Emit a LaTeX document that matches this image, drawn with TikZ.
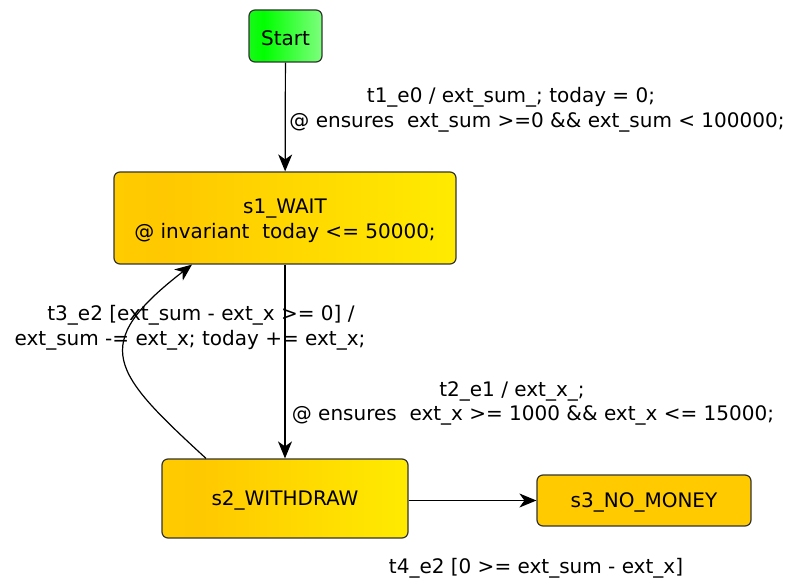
\documentclass[tikz,border=0pt]{standalone}
\usepackage{fontspec}
\setmainfont{DejaVu Sans}
\usetikzlibrary{arrows.meta}
\definecolor{gold1}{HTML}{FFDC00}
\definecolor{gold2}{HTML}{FFC800}
\definecolor{gold3}{HTML}{FFFF00}
\definecolor{green1}{HTML}{55EA55}
\definecolor{green2}{HTML}{00FF00}
\definecolor{green3}{HTML}{CCFFCC}
\definecolor{flat}{HTML}{FFCA00}
\definecolor{edge}{HTML}{333333}
\pgfdeclarehorizontalshading{goldshade}{100bp}{color(0bp)=(gold1); color(32bp)=(gold2); color(100bp)=(gold3)}
\pgfdeclarehorizontalshading{greenshade}{100bp}{color(0bp)=(green1); color(35bp)=(green2); color(100bp)=(green3)}
\newcommand{\lowertext}[2]{\raisebox{-#1}[\height][\depth]{#2}}
\tikzset{
  state/.style={draw=edge, line width=1.2pt, rounded corners=6pt, align=center, inner sep=0pt, font=\fontsize{20}{25}\selectfont},
  goldstate/.style={state, shading=goldshade},
  flatstate/.style={state, fill=flat},
  startstate/.style={state, shading=greenshade},
  lbl/.style={align=center, font=\fontsize{20}{24.5}\selectfont, inner sep=0pt},
  conn/.style={draw=black, line width=1.2pt, -{Stealth[length=17pt,width=14pt,inset=5pt]}}
}
\begin{document}
\begin{tikzpicture}[x=1pt,y=-1pt]
\useasboundingbox (0,0) rectangle (793,580);
\node[startstate, minimum width=73pt, minimum height=52pt] (start) at (285.5,36) {\lowertext{2pt}{Start}};
\node[goldstate, minimum width=342pt, minimum height=92pt] (s1) at (285,218) {\lowertext{3pt}{\begin{tabular}{@{}c@{}}s1\_WAIT\\@ invariant~ today <= 50000;\end{tabular}}};
\node[goldstate, minimum width=246pt, minimum height=79pt] (s2) at (285,498.5) {\lowertext{2pt}{s2\_WITHDRAW}};
\node[flatstate, minimum width=214pt, minimum height=51pt] (s3) at (644,500.5) {\lowertext{2pt}{s3\_NO\_MONEY}};

\draw[conn] (start) -- (s1);
\draw[conn] (s1) -- (s2);
\draw[conn] (s2.east |- s3.west) -- (s3.west);
\draw[conn] ([xshift=-79pt]s2.north) .. controls (112,372) and (88,345) .. ([xshift=-93pt]s1.south);

\node[lbl] (l1) at (537,110) {t1\_e0 / ext\_sum\_; today = 0;\hspace*{52pt}\\@ ensures~ ext\_sum >=0 \&\& ext\_sum < 100000;};
\node[lbl] (l2) at (533,403.5) {t2\_e1 / ext\_x\_;\hspace*{42pt}\\@ ensures~ ext\_x >= 1000 \&\& ext\_x <= 15000;};
\node[lbl] (l3) at (190,328) {\hspace*{22pt}t3\_e2 [ext\_sum - ext\_x >= 0] /\\ext\_sum -= ext\_x; today += ext\_x;};
\node[lbl] (l4) at (536,568) {t4\_e2 [0 >= ext\_sum - ext\_x]};
\end{tikzpicture}
\end{document}
